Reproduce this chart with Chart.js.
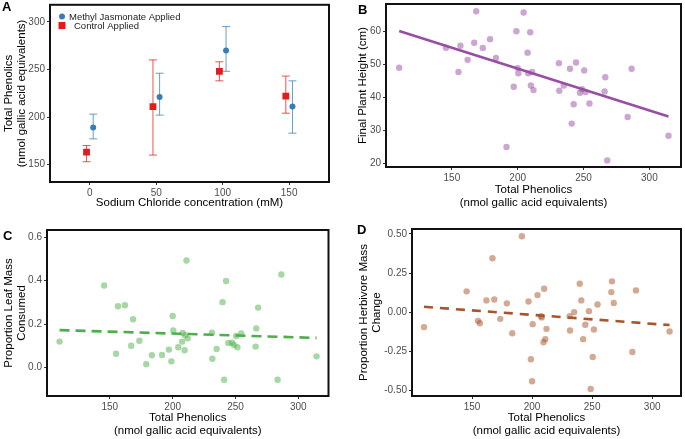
<!DOCTYPE html>
<html>
<head>
<meta charset="utf-8">
<title>Phenolics, salt and herbivory</title>
<script src="https://cdn.jsdelivr.net/npm/chart.js@4.4.1/dist/chart.umd.min.js"></script>
<style>
  html, body { margin: 0; padding: 0; background: #fff; }
  #wrap { position: relative; width: 685px; height: 439px; overflow: hidden; }
  #wrap canvas { position: absolute; }
</style>
</head>
<body>
<div id="wrap">
  <canvas id="panelA" width="340" height="218" style="left:0;top:0"></canvas>
  <canvas id="panelB" width="345" height="218" style="left:340px;top:0"></canvas>
  <canvas id="panelC" width="340" height="219" style="left:0;top:220px"></canvas>
  <canvas id="panelD" width="345" height="219" style="left:340px;top:220px"></canvas>
</div>
<script>
// ────────────────────────────────────────────────
// Data
// ────────────────────────────────────────────────

// Panel A - treatment means with error bars
const naclLevels = [0, 50, 100, 150];
const mejaMean   = [189, 221, 270, 211];
const mejaLow    = [177, 202, 248, 183];
const mejaHigh   = [203, 246, 295, 238];
const ctrlMean   = [163, 211, 248, 222];
const ctrlLow    = [153, 160, 238, 204];
const ctrlHigh   = [170, 260, 258, 243];

// Panels B-D - one value per plant
const phenolics = [110, 145.5, 155, 156.5, 162, 167, 168.5, 173.5, 179, 183.5,
                   191.5, 197, 199, 200, 200.5, 204.5, 207.5, 208, 209.5, 210,
                   211, 212, 231.3, 231.6, 235, 239.7, 241, 242.5, 244.3, 247.3,
                   248.8, 250.5, 251.5, 254.5, 266, 266.5, 268, 283.5, 286.5, 314.5];

const plantHeight = [49.0, 55.1, 47.7, 55.7, 51.4, 56.6, 66.2, 55.0, 57.7, 52.0,
                     24.9, 43.2, 60.1, 48.9, 47.3, 65.8, 53.6, 47.3, 59.8, 43.6,
                     47.7, 42.2, 50.4, 42.0, 43.6, 48.7, 32.0, 37.9, 50.6, 41.4,
                     42.5, 48.2, 41.6, 38.1, 41.8, 46.1, 20.8, 34.0, 48.7, 28.3];

const leafConsumed = [0.119, 0.378, 0.063, 0.282, 0.287, 0.100, 0.222, 0.123, 0.015, 0.056,
                      0.057, 0.082, 0.028, 0.237, 0.170, 0.093, 0.119, 0.159, 0.079, 0.148,
                      0.493, 0.134, 0.160, 0.040, 0.085, 0.301, -0.057, 0.399, 0.113, 0.114,
                      0.103, 0.145, 0.093, 0.157, 0.096, 0.180, 0.276, -0.057, 0.429, 0.051];

const massChange = [-0.096, 0.133, -0.056, -0.071, 0.075, 0.345, 0.081, -0.043, 0.056, -0.135,
                    0.486, 0.068, -0.302, -0.443, -0.077, 0.109, -0.026, -0.034, -0.193, 0.150,
                    -0.173, -0.107, -0.026, -0.118, 0.000, 0.182, 0.075, -0.173, -0.081, 0.006,
                    -0.492, -0.287, -0.111, 0.049, 0.128, 0.197, 0.058, -0.255, 0.139, -0.124];

// Fitted line, value at lowest and highest phenolics
const heightFit = [60.2, 34.2];
const leafFit   = [0.172, 0.136];
const massFit   = [0.034, -0.083];

// Tick labels
const naclTicks     = [0, 50, 100, 150];
const phenolA_Ticks = [150, 200, 250, 300];
const phenolTicks   = [150, 200, 250, 300];
const heightTicks   = [20, 30, 40, 50, 60];
const leafTicks     = [0, 0.2, 0.4, 0.6];
const massTicks     = [-0.5, -0.25, 0, 0.25, 0.5];

// ────────────────────────────────────────────────
// Look
// ────────────────────────────────────────────────
const FONT = '"Liberation Sans", Arial, Helvetica, sans-serif';
const DODGE = 2.5;
const PHENOL_TITLE = ['Total Phenolics', '(nmol gallic acid equivalents)'];

Chart.defaults.font.family = FONT;

// ────────────────────────────────────────────────
// Plugins
// ────────────────────────────────────────────────

/** Black box round the plot area plus the panel letter */
const panelFrame = {
    id: 'panelFrame',
    afterDraw(chart, args, opts) {
        const { ctx, chartArea: a } = chart;
        ctx.save();
        ctx.strokeStyle = '#111';
        ctx.lineWidth = 2;
        ctx.strokeRect(a.left, a.top, a.right - a.left, a.bottom - a.top);
        if (opts.label) {
            ctx.fillStyle = '#000';
            ctx.font = 'bold 13px ' + FONT;
            ctx.textBaseline = 'top';
            ctx.fillText(opts.label, opts.x, opts.y);
        }
        ctx.restore();
    }
};

/** Vertical error bars with caps, drawn under the points */
const errorBars = {
    id: 'errorBars',
    beforeDatasetsDraw(chart, args, opts) {
        const { ctx, scales: { x, y } } = chart;
        (opts.series || []).forEach(s => {
            ctx.save();
            ctx.strokeStyle = s.color;
            ctx.lineWidth = 1;
            s.xs.forEach((xv, i) => {
                const px = x.getPixelForValue(xv);
                const top = y.getPixelForValue(s.high[i]);
                const bot = y.getPixelForValue(s.low[i]);
                ctx.beginPath();
                ctx.moveTo(px, top); ctx.lineTo(px, bot);
                ctx.moveTo(px - 4, top); ctx.lineTo(px + 4, top);
                ctx.moveTo(px - 4, bot); ctx.lineTo(px + 4, bot);
                ctx.stroke();
            });
            ctx.restore();
        });
    }
};

/** Small legend sitting inside the plot (panel A) */
const insideLegend = {
    id: 'insideLegend',
    afterDraw(chart, args, opts) {
        if (!opts.items) return;
        const { ctx } = chart;
        ctx.save();
        ctx.font = '9.5px ' + FONT;
        ctx.textBaseline = 'middle';
        opts.items.forEach(it => {
            ctx.fillStyle = it.color;
            if (it.shape === 'rect') {
                ctx.fillRect(it.mx - 3.5, it.my - 3.5, 7, 7);
            } else {
                ctx.beginPath();
                ctx.arc(it.mx, it.my, 3, 0, Math.PI * 2);
                ctx.fill();
            }
            ctx.fillStyle = '#222';
            ctx.fillText(it.text, it.tx, it.ty);
        });
        ctx.restore();
    }
};

// ────────────────────────────────────────────────
// Helpers
// ────────────────────────────────────────────────

/**
 * ggplot-like linear axis with fixed ticks and a fixed box size
 */
function axis(o) {
    return {
        type: 'linear',
        position: o.position,
        min: o.min,
        max: o.max,
        afterBuildTicks: s => { s.ticks = o.ticks.map(v => ({ value: v })); },
        afterFit: s => {
            if (o.width) s.width = o.width;
            if (o.height) s.height = o.height;
            // keep the plot box exactly where the layout padding puts it
            s.paddingTop = 0;
            s.paddingBottom = 0;
            s.paddingLeft = 0;
            s.paddingRight = 0;
        },
        grid: { drawOnChartArea: false, drawTicks: true, tickLength: 3, tickColor: '#333', tickWidth: 1 },
        border: { display: false },
        ticks: {
            autoSkip: false,
            maxRotation: 0,
            padding: 2,
            color: '#4d4d4d',
            font: { size: 10 },
            callback: o.format || (v => v)
        },
        title: {
            display: true,
            text: o.title,
            color: '#000',
            font: { size: 11.5, lineHeight: 1.1 },
            padding: o.titlePad
        }
    };
}

function pointsOf(ys) {
    return phenolics.map((p, i) => ({ x: p, y: ys[i] }));
}

function fitOf(ends) {
    return [
        { x: Math.min(...phenolics), y: ends[0] },
        { x: Math.max(...phenolics), y: ends[1] }
    ];
}

function baseOptions(pad, label, scales) {
    return {
        responsive: false,
        animation: false,
        devicePixelRatio: 1,
        layout: { padding: pad },
        plugins: {
            legend: { display: false },
            tooltip: { enabled: false },
            panelFrame: label
        },
        scales
    };
}

/**
 * Scatter of plant values with a fitted line on top
 */
function plantPanel(id, ys, fit, color, dotColor, dash, yAxis, pad, label, xTitlePad) {
    return new Chart(document.getElementById(id), {
        type: 'scatter',
        data: {
            datasets: [
                {
                    data: fitOf(fit),
                    showLine: true,
                    pointRadius: 0,
                    borderColor: color,
                    borderWidth: 2.6,
                    borderDash: dash,
                    order: 0
                },
                {
                    data: pointsOf(ys),
                    pointRadius: 3.2,
                    backgroundColor: dotColor,
                    borderWidth: 0,
                    order: 1
                }
            ]
        },
        options: baseOptions(pad, label, {
            x: axis({
                position: 'bottom', min: 100, max: 324, ticks: phenolTicks,
                height: xTitlePad.height, title: PHENOL_TITLE,
                titlePad: { top: 0, bottom: xTitlePad.bottom }
            }),
            y: yAxis
        }),
        plugins: [panelFrame]
    });
}

// ────────────────────────────────────────────────
// Panel A
// ────────────────────────────────────────────────
new Chart(document.getElementById('panelA'), {
    type: 'scatter',
    data: {
        datasets: [
            {
                data: naclLevels.map((n, i) => ({ x: n + DODGE, y: mejaMean[i] })),
                pointStyle: 'circle',
                pointRadius: 3,
                backgroundColor: '#377eb8',
                borderWidth: 0
            },
            {
                data: naclLevels.map((n, i) => ({ x: n - DODGE, y: ctrlMean[i] })),
                pointStyle: 'rect',
                pointRadius: 4.8,
                backgroundColor: '#e41a1c',
                borderWidth: 0
            }
        ]
    },
    options: Object.assign(baseOptions({ left: 0, right: 11, top: 2, bottom: 0 },
        { label: 'A', x: 2, y: 1 }, {
            x: axis({
                position: 'bottom', min: -30, max: 180, ticks: naclTicks, height: 36,
                title: 'Sodium Chloride concentration (mM)',
                titlePad: { top: 0, bottom: 9 }
            }),
            y: axis({
                position: 'left', min: 131.7, max: 317.9, ticks: phenolA_Ticks, width: 50,
                title: PHENOL_TITLE.slice(), titlePad: { top: 3, bottom: 0 }
            })
        })),
    plugins: [panelFrame, errorBars, insideLegend]
});

const chartA = Chart.getChart('panelA');
chartA.options.plugins.errorBars = {
    series: [
        { xs: naclLevels.map(n => n + DODGE), low: mejaLow, high: mejaHigh, color: 'rgba(55,126,184,0.75)' },
        { xs: naclLevels.map(n => n - DODGE), low: ctrlLow, high: ctrlHigh, color: 'rgba(228,26,28,0.75)' }
    ]
};
chartA.options.plugins.insideLegend = {
    items: [
        { shape: 'circle', color: '#377eb8', mx: 62, my: 16.5, tx: 69, ty: 17, text: 'Methyl Jasmonate Applied' },
        { shape: 'rect', color: '#e41a1c', mx: 62, my: 25.5, tx: 74, ty: 26.5, text: 'Control Applied' }
    ]
};
chartA.update();

// ────────────────────────────────────────────────
// Panels B, C, D
// ────────────────────────────────────────────────
plantPanel('panelB', plantHeight, heightFit, '#984ea3', 'rgba(152,78,163,0.5)', [],
    axis({
        position: 'left', min: 18.8, max: 68.4, ticks: heightTicks, width: 46,
        title: 'Final Plant Height (cm)', titlePad: { top: 16.5, bottom: 0 }
    }),
    { left: 0, right: 2, top: 2, bottom: 0 }, { label: 'B', x: 18, y: 4 },
    { height: 51, bottom: 9 });

plantPanel('panelC', leafConsumed, leafFit, '#4daf4a', 'rgba(77,175,74,0.5)', [10, 6],
    axis({
        position: 'left', min: -0.132, max: 0.634, ticks: leafTicks, width: 47,
        format: v => v.toFixed(1),
        title: ['Proportion Leaf Mass', 'Consumed'], titlePad: { top: 2.7, bottom: 0 }
    }),
    { left: 0, right: 11.5, top: 10, bottom: 0 }, { label: 'C', x: 3, y: 10 },
    { height: 43, bottom: 2 });

plantPanel('panelD', massChange, massFit, '#a65628', 'rgba(166,86,40,0.5)', [9, 7],
    axis({
        position: 'left', min: -0.537, max: 0.532, ticks: massTicks, width: 72,
        format: v => v.toFixed(2),
        title: ['Proportion Herbivore Mass', 'Change'], titlePad: { top: 18, bottom: 0 }
    }),
    { left: 0, right: 2, top: 9, bottom: 0 }, { label: 'D', x: 17, y: 4 },
    { height: 43, bottom: 2 });
</script>
</body>
</html>
